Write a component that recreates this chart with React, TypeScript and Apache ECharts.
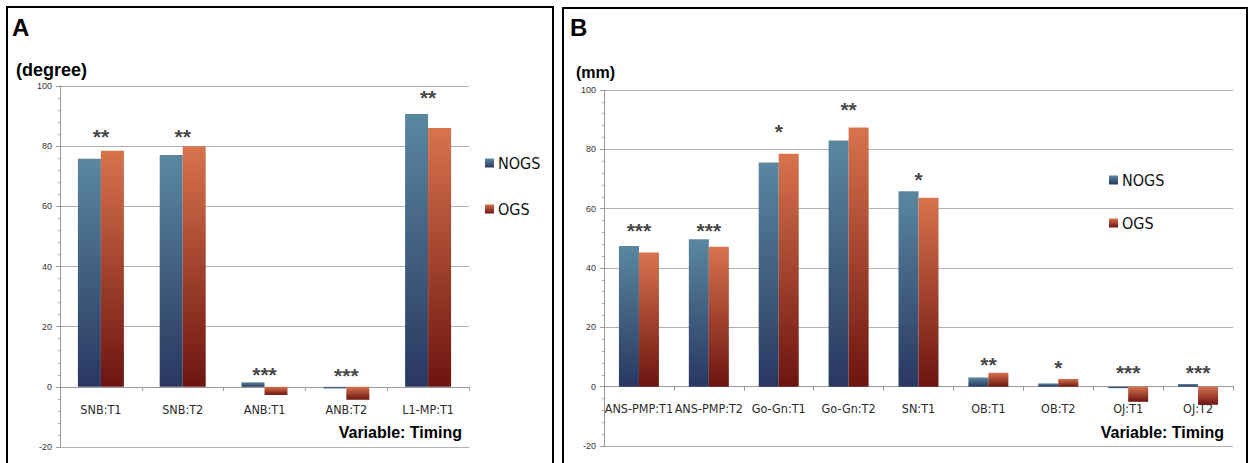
import React, { useEffect, useRef } from "react";
import * as echarts from "echarts";

const catsA = ["SNB:T1", "SNB:T2", "ANB:T1", "ANB:T2", "L1-MP:T1"];
const nogsA = [75.8, 77.1, 1.5, -0.5, 90.7];
const ogsA = [78.5, 80.0, -2.7, -4.3, 86.0];
const starsA = ["**", "**", "***", "***", "**"];
const starPosA = [84.4, 84.7, 5.3, 5.1, 97.5];

const catsB = ["ANS-PMP:T1", "ANS-PMP:T2", "Go-Gn:T1", "Go-Gn:T2", "SN:T1", "OB:T1", "OB:T2", "OJ:T1", "OJ:T2"];
const nogsB = [47.4, 49.7, 75.6, 83.0, 65.9, 3.1, 1.1, -0.5, 0.9];
const ogsB = [45.2, 47.2, 78.5, 87.4, 63.7, 4.7, 2.6, -5.1, -6.1];
const starsB = ["***", "***", "*", "**", "*", "**", "*", "***", "***"];
const starPosB = [54, 54, 87.2, 94.7, 71.3, 8.8, 7.8, 6.1, 6.1];

const yMin = -20;
const yMax = 100;
const yStep = 20;

const FONT = "'Liberation Sans', Arial, sans-serif";
const NARROW = "'Liberation Sans Narrow', 'DejaVu Sans Condensed', 'Liberation Sans', sans-serif";

const blueGrad = () =>
  new echarts.graphic.LinearGradient(0, 0, 0, 1, [
    { offset: 0, color: "#5a87a0" },
    { offset: 1, color: "#293760" },
  ]);
const redGrad = () =>
  new echarts.graphic.LinearGradient(0, 0, 0, 1, [
    { offset: 0, color: "#d8734d" },
    { offset: 1, color: "#6c1410" },
  ]);

export default function App() {
  const ref = useRef<HTMLDivElement>(null);
  useEffect(() => {
    document.body.style.margin = "0";
    if (!ref.current) return;
    const chart = echarts.init(ref.current, null, { renderer: "svg" });

    const yAxisBase = (gridIndex: number) => ({
      type: "value",
      gridIndex,
      min: yMin,
      max: yMax,
      interval: yStep,
      axisLine: { show: true, lineStyle: { color: "#999", width: 1 } },
      axisTick: { show: true, length: 4, lineStyle: { color: "#999" } },
      minorTick: { show: true, splitNumber: 5, length: 2, lineStyle: { color: "#aaa" } },
      axisLabel: { fontSize: 9, color: "#333", fontFamily: FONT, margin: 8 },
      splitLine: { show: true, lineStyle: { color: "#b0b0b0", width: 1.2 } },
    });
    const xAxisBase = (gridIndex: number, data: string[]) => ({
      type: "category",
      gridIndex,
      data,
      axisLine: { show: true, onZero: true, lineStyle: { color: "#999", width: 1.2 } },
      axisTick: { show: true, length: 4, lineStyle: { color: "#999" } },
      axisLabel: { fontSize: 12.5, color: "#2a2a2a", fontFamily: NARROW, margin: -44, interval: 0 },
      splitLine: { show: false },
    });
    const starLabel = (stars: string[]) => ({
      show: true,
      position: "inside",
      offset: [0, 4],
      formatter: (p: any) => stars[p.dataIndex],
      fontSize: 21,
      fontWeight: "bold",
      color: "#111",
      fontFamily: FONT,
    });

    const option: any = {
      animation: false,
      backgroundColor: "#fff",
      grid: [
        { left: 60, right: 1249 - 469, top: 86, bottom: 463 - 447, containLabel: false, outerBoundsMode: "none" },
        { left: 604, right: 1249 - 1233, top: 90, bottom: 463 - 446, containLabel: false, outerBoundsMode: "none" },
      ],
      xAxis: [xAxisBase(0, catsA), xAxisBase(1, catsB)],
      yAxis: [yAxisBase(0), yAxisBase(1)],
      legend: [
        {
          orient: "vertical",
          left: 480,
          top: 150,
          itemWidth: 9,
          itemHeight: 9,
          itemGap: 30,
          icon: "rect",
          data: ["NOGS", "OGS"],
          textStyle: { fontSize: 16, color: "#111", fontFamily: NARROW, padding: [0, 0, 0, -1] },
        },
        {
          orient: "vertical",
          left: 1104,
          top: 167,
          itemWidth: 9,
          itemHeight: 9,
          itemGap: 27,
          icon: "rect",
          data: ["NOGS", "OGS"],
          textStyle: { fontSize: 16, color: "#111", fontFamily: NARROW, padding: [0, 0, 0, -1] },
        },
      ],
      series: [
        { name: "NOGS", type: "bar", xAxisIndex: 0, yAxisIndex: 0, data: nogsA, barWidth: 23, barGap: "0%", itemStyle: { color: blueGrad() } },
        { name: "OGS", type: "bar", xAxisIndex: 0, yAxisIndex: 0, data: ogsA, barWidth: 23, barGap: "0%", itemStyle: { color: redGrad() } },
        { name: "starsA", type: "scatter", xAxisIndex: 0, yAxisIndex: 0, data: starPosA, symbolSize: 0, label: starLabel(starsA), silent: true },
        { name: "NOGS", type: "bar", xAxisIndex: 1, yAxisIndex: 1, data: nogsB, barWidth: 20, barGap: "0%", itemStyle: { color: blueGrad() } },
        { name: "OGS", type: "bar", xAxisIndex: 1, yAxisIndex: 1, data: ogsB, barWidth: 20, barGap: "0%", itemStyle: { color: redGrad() } },
        { name: "starsB", type: "scatter", xAxisIndex: 1, yAxisIndex: 1, data: starPosB, symbolSize: 0, label: starLabel(starsB), silent: true },
      ],
      graphic: [
        { type: "rect", shape: { x: 7, y: 7, width: 546, height: 480 }, style: { fill: "none", stroke: "#000", lineWidth: 2 }, silent: true },
        { type: "rect", shape: { x: 563, y: 8, width: 684, height: 480 }, style: { fill: "none", stroke: "#000", lineWidth: 2 }, silent: true },
        { type: "text", x: 12, y: 27, style: { text: "A", fontSize: 24, fontWeight: "bold", fontFamily: FONT, fill: "#000", verticalAlign: "middle" } },
        { type: "text", x: 570, y: 27, style: { text: "B", fontSize: 24, fontWeight: "bold", fontFamily: FONT, fill: "#000", verticalAlign: "middle" } },
        { type: "text", x: 16, y: 70, style: { text: "(degree)", fontSize: 18, fontWeight: "bold", fontFamily: FONT, fill: "#000", verticalAlign: "middle" } },
        { type: "text", x: 576, y: 72, style: { text: "(mm)", fontSize: 16, fontWeight: "bold", fontFamily: FONT, fill: "#000", verticalAlign: "middle" } },
        { type: "text", x: 462, y: 432, style: { text: "Variable: Timing", fontSize: 16, fontWeight: "bold", fontFamily: FONT, fill: "#000", align: "right", verticalAlign: "middle" } },
        { type: "text", x: 1224, y: 432, style: { text: "Variable: Timing", fontSize: 16, fontWeight: "bold", fontFamily: FONT, fill: "#000", align: "right", verticalAlign: "middle" } },
      ],
    };
    chart.setOption(option);
    return () => chart.dispose();
  }, []);
  return <div ref={ref} style={{ width: 1249, height: 463 }} />;
}
